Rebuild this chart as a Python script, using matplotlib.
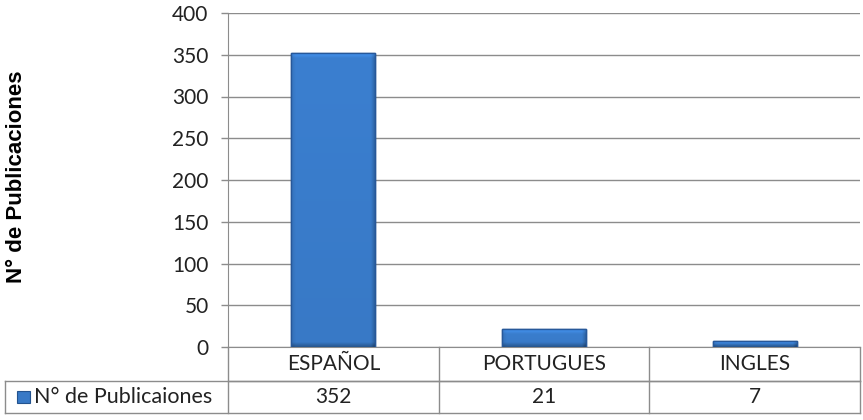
import numpy as np
import matplotlib.pyplot as plt
from matplotlib.patches import Rectangle

categories = ["ESPAÑOL", "PORTUGUES", "INGLES"]
values = [352, 21, 7]
series_name = "N° de Publicaiones"
y_label = "N° de Publicaciones"
y_ticks = [0, 50, 100, 150, 200, 250, 300, 350, 400]

grid_color = "#8c8c8c"
text_color = "#222222"
font = "Lato"
base = np.array([0x38, 0x79, 0xC6]) / 255.0

fig = plt.figure(figsize=(8.63, 4.2), dpi=100)
ax = fig.add_axes([228 / 863, 1 - 347 / 420, 632 / 863, 334 / 420])

x = np.arange(len(categories))
bars = ax.bar(x, values, width=0.4, color="#3879C6", edgecolor="#23538F", linewidth=1.0, zorder=3)

# bevel shading to mimic the Excel bar style
px_x = 632 / 3.0
px_y = 334 / 400.0
for b in bars:
    x0, y0 = b.get_x(), b.get_y()
    w, h = b.get_width(), b.get_height()
    nw = max(int(round(w * px_x)), 2)
    nh = max(int(round(h * px_y)), 2)
    xx, yy = np.meshgrid(np.arange(nw) + 0.5, np.arange(nh) + 0.5)
    d_l, d_r = xx, nw - xx
    d_t, d_b = yy, nh - yy
    bev = 5.0
    f = 1.0 + 0.05 * (1 - yy / nh)
    f = f + 0.18 * np.clip(1 - d_t / bev, 0, 1)
    f = f - 0.10 * np.clip(1 - d_l / bev, 0, 1)
    f = f - 0.28 * np.clip(1 - d_r / bev, 0, 1)
    f = f - 0.30 * np.clip(1 - d_b / bev, 0, 1)
    img = np.clip(base[None, None, :] * f[:, :, None], 0, 1)
    im = ax.imshow(img, aspect="auto", extent=[x0, x0 + w, y0, y0 + h],
                   zorder=3.5, interpolation="bilinear", origin="upper")
    ax.add_patch(Rectangle((x0, y0), w, h, fill=False, edgecolor="#27589A",
                           linewidth=1.0, zorder=4))

ax.set_xlim(-0.5, len(categories) - 0.5)
ax.set_ylim(0, 400)
ax.set_yticks(y_ticks)
ax.set_yticklabels([str(t) for t in y_ticks], fontsize=15, family=font, color=text_color)
ax.set_xticks([])
ax.yaxis.grid(True, color=grid_color, linewidth=1.0, zorder=0)
ax.tick_params(axis="y", length=5, width=1, color=grid_color, pad=9)
for s in ["top", "right"]:
    ax.spines[s].set_visible(False)
ax.spines["left"].set_color(grid_color)
ax.spines["bottom"].set_color(grid_color)
ax.set_ylabel(y_label, fontsize=16, fontweight="bold", family="Liberation Sans",
              labelpad=0)
ax.yaxis.set_label_coords(-0.318, 0.51)

# data table below the plot
tr = ax.transAxes
row1 = -34 / 334
row2 = -66 / 334
left = -223 / 632
ncol = len(categories)
line_kw = dict(color=grid_color, linewidth=1.0, clip_on=False, transform=tr)
ax.plot([0, 1], [row1, row1], **line_kw)
ax.plot([left, 1], [row1, row1], **line_kw)
ax.plot([left, 1], [row2, row2], **line_kw)
ax.plot([left, left], [row1, row2], **line_kw)
for i in range(ncol + 1):
    xc = i / ncol
    ax.plot([xc, xc], [0, row2], **line_kw)
for i, (c, v) in enumerate(zip(categories, values)):
    xc = (i + 0.5) / ncol
    ax.text(xc, row1 / 2, c, transform=tr, ha="center", va="center",
            fontsize=15, family=font, color=text_color)
    ax.text(xc, (row1 + row2) / 2, str(v), transform=tr, ha="center", va="center",
            fontsize=15, family=font, color=text_color)

# legend key inside the table
key_w = 13 / 632
key_h = 12 / 334
kx = -211 / 632
ky = (row1 + row2) / 2 - key_h / 2
ax.add_patch(Rectangle((kx, ky), key_w, key_h, transform=tr, clip_on=False,
                       facecolor="#3879C6", edgecolor="#23538F", linewidth=0.8))
ax.text(kx + key_w + 4 / 632, (row1 + row2) / 2, series_name, transform=tr,
        ha="left", va="center", fontsize=15.5, family=font, color=text_color)

fig.savefig("out.png", dpi=100)
